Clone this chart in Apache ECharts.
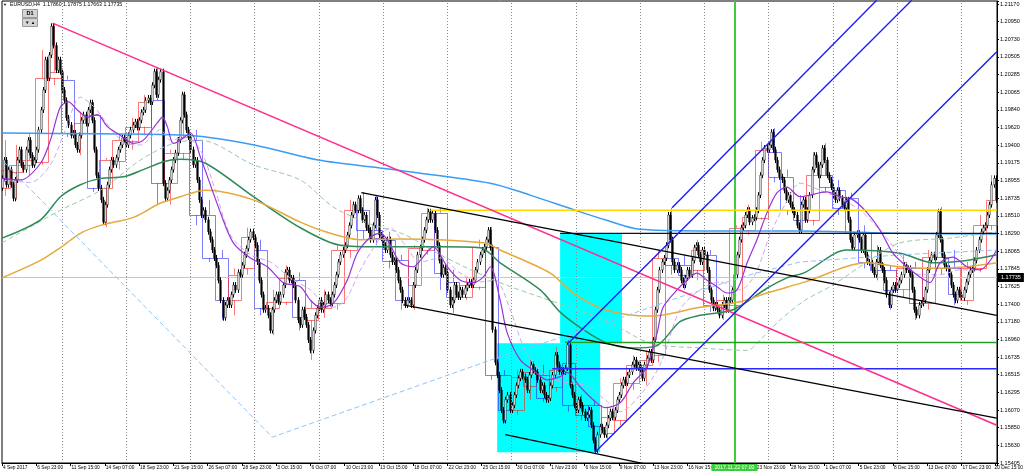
<!DOCTYPE html>
<html>
<head>
<meta charset="utf-8">
<title>EURUSD,H4</title>
<script src="https://cdn.jsdelivr.net/npm/echarts@6/dist/echarts.min.js"></script>
<style>
html, body { margin: 0; padding: 0; background: #fff; }
#chart { width: 1024px; height: 475px; }
</style>
</head>
<body>
<div id="chart"></div>
<script>
// H4 closes, one row per trading day (first day starts 4 Sep 07:00, then 6 bars a day)
var h4Close = [
    1.1898, 1.1921, 1.1890, 1.1909,
    1.1890, 1.1873, 1.1896, 1.1921, 1.1934, 1.1915,
    1.1909, 1.1934, 1.1946, 1.1927, 1.1915, 1.1921,
    1.1934, 1.1959, 1.1984, 1.2009, 1.2047, 1.2024,
    1.2053, 1.2089, 1.2065, 1.2034, 1.2047, 1.2032,
    1.2009, 1.1996, 1.1974, 1.1965, 1.1952, 1.1955,
    1.1940, 1.1934, 1.1952, 1.1971, 1.1978, 1.1967,
    1.1984, 1.1993, 1.1971, 1.1934, 1.1902, 1.1886,
    1.1871, 1.1843, 1.1865, 1.1890, 1.1909, 1.1921,
    1.1915, 1.1924, 1.1934, 1.1940, 1.1949, 1.1946,
    1.1940, 1.1952, 1.1959, 1.1965, 1.1969, 1.1962,
    1.1971, 1.1981, 1.1984, 1.1996, 1.1999, 1.1994,
    1.2015, 1.2032, 1.2003, 1.2022, 1.2032, 1.1892,
    1.1873, 1.1883, 1.1896, 1.1909, 1.1921, 1.1930,
    1.1946, 1.1971, 1.2003, 1.1978, 1.1959, 1.1950,
    1.1934, 1.1915, 1.1921, 1.1896, 1.1871, 1.1852,
    1.1858, 1.1846, 1.1831, 1.1821, 1.1808, 1.1798,
    1.1789, 1.1770, 1.1745, 1.1723, 1.1739, 1.1745,
    1.1739, 1.1752, 1.1764, 1.1758, 1.1780, 1.1777,
    1.1789, 1.1802, 1.1810, 1.1821, 1.1831, 1.1824,
    1.1814, 1.1793, 1.1770, 1.1752, 1.1733, 1.1735,
    1.1726, 1.1707, 1.1733, 1.1745, 1.1752, 1.1743,
    1.1752, 1.1764, 1.1780, 1.1783, 1.1770, 1.1773,
    1.1764, 1.1745, 1.1720, 1.1714, 1.1733, 1.1724,
    1.1714, 1.1695, 1.1682, 1.1707, 1.1726, 1.1735,
    1.1745, 1.1733, 1.1739, 1.1752, 1.1745, 1.1741,
    1.1752, 1.1764, 1.1777, 1.1793, 1.1802, 1.1808,
    1.1814, 1.1827, 1.1839, 1.1852, 1.1865, 1.1858,
    1.1873, 1.1858, 1.1846, 1.1852, 1.1836, 1.1833,
    1.1821, 1.1839, 1.1871, 1.1852, 1.1827, 1.1823,
    1.1814, 1.1808, 1.1821, 1.1802, 1.1793, 1.1795,
    1.1783, 1.1770, 1.1758, 1.1745, 1.1739, 1.1745,
    1.1745, 1.1739, 1.1764, 1.1783, 1.1802, 1.1811,
    1.1821, 1.1833, 1.1846, 1.1856, 1.1846, 1.1854,
    1.1833, 1.1814, 1.1795, 1.1777, 1.1786, 1.1780,
    1.1758, 1.1739, 1.1745, 1.1764, 1.1752, 1.1749,
    1.1758, 1.1752, 1.1760, 1.1764, 1.1768, 1.1764,
    1.1770, 1.1783, 1.1793, 1.1802, 1.1808, 1.1812,
    1.1821, 1.1833, 1.1811, 1.1708, 1.1667, 1.1651,
    1.1632, 1.1607, 1.1594, 1.1620, 1.1626, 1.1607,
    1.1613, 1.1626, 1.1638, 1.1647, 1.1655, 1.1649,
    1.1645, 1.1632, 1.1651, 1.1664, 1.1657, 1.1655,
    1.1645, 1.1632, 1.1638, 1.1626, 1.1620, 1.1622,
    1.1638, 1.1651, 1.1676, 1.1664, 1.1655, 1.1657,
    1.1655, 1.1660, 1.1689, 1.1638, 1.1626, 1.1613,
    1.1607, 1.1620, 1.1613, 1.1605, 1.1597, 1.1601,
    1.1607, 1.1588, 1.1569, 1.1557, 1.1576, 1.1586,
    1.1582, 1.1576, 1.1588, 1.1597, 1.1605, 1.1598,
    1.1607, 1.1620, 1.1626, 1.1638, 1.1645, 1.1641,
    1.1651, 1.1655, 1.1664, 1.1670, 1.1660, 1.1664,
    1.1657, 1.1647, 1.1664, 1.1672, 1.1680, 1.1670,
    1.1695, 1.1733, 1.1758, 1.1783, 1.1793, 1.1798,
    1.1814, 1.1852, 1.1821, 1.1793, 1.1783, 1.1789,
    1.1783, 1.1770, 1.1764, 1.1773, 1.1783, 1.1777,
    1.1795, 1.1811, 1.1814, 1.1802, 1.1793, 1.1808,
    1.1802, 1.1783, 1.1758, 1.1745, 1.1735, 1.1739,
    1.1733, 1.1726, 1.1739, 1.1745, 1.1733, 1.1745,
    1.1745, 1.1758, 1.1777, 1.1802, 1.1821, 1.1836,
    1.1839, 1.1852, 1.1858, 1.1843, 1.1848, 1.1849,
    1.1858, 1.1877, 1.1902, 1.1921, 1.1936, 1.1934,
    1.1940, 1.1956, 1.1934, 1.1921, 1.1909, 1.1900,
    1.1896, 1.1883, 1.1871, 1.1877, 1.1865, 1.1858,
    1.1852, 1.1839, 1.1833, 1.1865, 1.1871, 1.1846,
    1.1858, 1.1877, 1.1909, 1.1927, 1.1915, 1.1902,
    1.1915, 1.1936, 1.1921, 1.1902, 1.1896, 1.1887,
    1.1877, 1.1871, 1.1883, 1.1873, 1.1865, 1.1861,
    1.1871, 1.1846, 1.1821, 1.1811, 1.1827, 1.1829,
    1.1821, 1.1808, 1.1827, 1.1802, 1.1793, 1.1792,
    1.1783, 1.1777, 1.1793, 1.1808, 1.1789, 1.1783,
    1.1770, 1.1752, 1.1739, 1.1758, 1.1764, 1.1758,
    1.1764, 1.1770, 1.1777, 1.1789, 1.1783, 1.1785,
    1.1777, 1.1758, 1.1733, 1.1726, 1.1739, 1.1741,
    1.1745, 1.1758, 1.1783, 1.1795, 1.1802, 1.1799,
    1.1827, 1.1856, 1.1821, 1.1802, 1.1789, 1.1785,
    1.1777, 1.1764, 1.1752, 1.1745, 1.1758, 1.1752,
    1.1748, 1.1758, 1.1768, 1.1777, 1.1783, 1.1785,
    1.1795, 1.1808, 1.1821, 1.1831, 1.1836, 1.1839,
    1.1852, 1.1865, 1.1890, 1.1898, 1.1871
];

// daily candles (the red / blue boxes)
var dayOpen = [
    1.1886, 1.1906, 1.1915, 1.1919, 1.2024, 1.2022, 1.1955, 1.1978, 1.1886, 1.1919,
    1.1946, 1.1963, 1.1996, 1.1892, 1.1930, 1.1946, 1.1852, 1.1798, 1.1745, 1.1785,
    1.1808, 1.1735, 1.1743, 1.1770, 1.1720, 1.1735, 1.1741, 1.1808, 1.1858, 1.1833,
    1.1821, 1.1795, 1.1764, 1.1808, 1.1855, 1.1768, 1.1749, 1.1762, 1.1812, 1.1651,
    1.1607, 1.1638, 1.1651, 1.1636, 1.1666, 1.1613, 1.1613, 1.1578, 1.1594, 1.1641,
    1.1664, 1.1676, 1.1798, 1.1789, 1.1783, 1.1802, 1.1739, 1.1739, 1.1833, 1.1849,
    1.1931, 1.1900, 1.1858, 1.1846, 1.1902, 1.1883, 1.1873, 1.1829, 1.1792, 1.1783,
    1.1758, 1.1785, 1.1741, 1.1799, 1.1785, 1.1745, 1.1785, 1.1839
];
var dayHigh = [
    1.1946, 1.1940, 1.1955, 1.2059, 1.2093, 1.2027, 1.1981, 1.1994, 1.1924, 1.1952,
    1.1974, 1.2003, 1.2037, 1.1934, 1.2005, 1.1959, 1.1871, 1.1808, 1.1785, 1.1836,
    1.1821, 1.1758, 1.1789, 1.1780, 1.1745, 1.1758, 1.1814, 1.1871, 1.1881, 1.1877,
    1.1831, 1.1802, 1.1814, 1.1861, 1.1861, 1.1783, 1.1773, 1.1821, 1.1837, 1.1657,
    1.1657, 1.1670, 1.1664, 1.1686, 1.1695, 1.1626, 1.1620, 1.1610, 1.1647, 1.1676,
    1.1682, 1.1808, 1.1861, 1.1802, 1.1821, 1.1808, 1.1752, 1.1839, 1.1865, 1.1944,
    1.1961, 1.1909, 1.1877, 1.1931, 1.1942, 1.1896, 1.1880, 1.1839, 1.1814, 1.1789,
    1.1802, 1.1793, 1.1808, 1.1862, 1.1808, 1.1793, 1.1852, 1.1902
];
var dayLow = [
    1.1876, 1.1871, 1.1902, 1.1915, 1.2015, 1.1950, 1.1927, 1.1881, 1.1837, 1.1909,
    1.1934, 1.1952, 1.1865, 1.1865, 1.1921, 1.1839, 1.1793, 1.1720, 1.1726, 1.1777,
    1.1726, 1.1701, 1.1739, 1.1707, 1.1670, 1.1723, 1.1733, 1.1798, 1.1821, 1.1814,
    1.1785, 1.1733, 1.1733, 1.1802, 1.1758, 1.1729, 1.1745, 1.1758, 1.1645, 1.1591,
    1.1601, 1.1620, 1.1617, 1.1630, 1.1605, 1.1594, 1.1554, 1.1569, 1.1588, 1.1632,
    1.1638, 1.1667, 1.1777, 1.1758, 1.1770, 1.1730, 1.1720, 1.1733, 1.1827, 1.1846,
    1.1893, 1.1852, 1.1831, 1.1839, 1.1881, 1.1852, 1.1808, 1.1785, 1.1770, 1.1733,
    1.1748, 1.1720, 1.1733, 1.1777, 1.1739, 1.1739, 1.1780, 1.1833
];
var dayClose = [
    1.1909, 1.1915, 1.1921, 1.2024, 1.2032, 1.1955, 1.1968, 1.1886, 1.1921, 1.1946,
    1.1963, 1.1994, 1.1892, 1.1930, 1.1950, 1.1852, 1.1798, 1.1745, 1.1777, 1.1824,
    1.1735, 1.1743, 1.1773, 1.1724, 1.1735, 1.1741, 1.1808, 1.1858, 1.1833, 1.1823,
    1.1795, 1.1745, 1.1811, 1.1855, 1.1780, 1.1749, 1.1764, 1.1812, 1.1651, 1.1607,
    1.1649, 1.1655, 1.1622, 1.1657, 1.1613, 1.1601, 1.1586, 1.1598, 1.1641, 1.1664,
    1.1670, 1.1798, 1.1789, 1.1777, 1.1808, 1.1739, 1.1745, 1.1836, 1.1849, 1.1934,
    1.1900, 1.1858, 1.1846, 1.1902, 1.1887, 1.1861, 1.1829, 1.1792, 1.1783, 1.1758,
    1.1785, 1.1741, 1.1799, 1.1785, 1.1752, 1.1785, 1.1839, 1.1871
];

// axis labels: time label every 16 bars, price labels bottom to top
var timeLabels = ['4 Sep 2017', '6 Sep 23:00', '11 Sep 15:00', '14 Sep 07:00', '18 Sep 23:00', '21 Sep 15:00',
    '26 Sep 07:00', '28 Sep 23:00', '3 Oct 15:00', '6 Oct 07:00', '10 Oct 23:00', '13 Oct 15:00', '18 Oct 07:00',
    '22 Oct 23:00', '25 Oct 15:00', '30 Oct 07:00', '1 Nov 23:00', '6 Nov 15:00', '9 Nov 07:00', '13 Nov 23:00',
    '16 Nov 15:00', '21 Nov 07:00', '23 Nov 23:00', '28 Nov 15:00', '1 Dec 07:00', '5 Dec 23:00', '8 Dec 15:00',
    '13 Dec 07:00', '17 Dec 23:00', '20 Dec 15:00'];
var priceLabels = ['1.15405', '1.15630', '1.15850', '1.16070', '1.16295', '1.16515', '1.16735', '1.16960',
    '1.17180', '1.17400', '1.17625', '1.17845', '1.18065', '1.18290', '1.18510', '1.18735', '1.18955', '1.19175',
    '1.19400', '1.19620', '1.19840', '1.20065', '1.20285', '1.20505', '1.20730', '1.20950', '1.21170'];
var weekStarts = [28, 58, 88, 118, 148, 178, 208, 238, 268, 298, 328, 358, 388, 418, 448];

// moving averages, [bar, price]
var maSky = [[0, 1.1955], [46, 1.1954], [88, 1.1952], [117.8, 1.1940], [147.7, 1.1921], [176.6, 1.1911], [188.3, 1.1907],
    [228, 1.1892], [246.6, 1.1877], [267.6, 1.1858], [281.6, 1.1846], [298, 1.1834], [326, 1.1832], [372.6, 1.1832],
    [419.3, 1.1829], [464.5, 1.1828]];
var maGreen = [[0, 1.1823], [18, 1.1846], [27.3, 1.1875], [36.6, 1.1890], [46, 1.1898], [56.7, 1.1900], [66, 1.1909],
    [75.4, 1.1919], [83.3, 1.1922], [95, 1.1917], [117.4, 1.1875], [139.3, 1.1836], [158, 1.1814], [176.6, 1.1812],
    [204.6, 1.1812], [223.3, 1.1811], [232.6, 1.1792], [251.3, 1.1758], [260.6, 1.1730], [271.4, 1.1708],
    [281.6, 1.1692], [293.3, 1.1685], [305, 1.1687], [316.6, 1.1718], [326, 1.1726], [341.3, 1.1733], [357.2, 1.1760],
    [366.5, 1.1773], [375, 1.1780], [394.5, 1.1808], [419.3, 1.1804], [434.7, 1.1792], [450.5, 1.1795], [464.5, 1.1802]];
var maGreenDash = [[0, 1.1817], [27.3, 1.1858], [46, 1.1883], [64.6, 1.1921], [80, 1.1942], [92.6, 1.1946],
    [117.4, 1.1915], [139.3, 1.1896], [154.7, 1.1862], [170.6, 1.1842], [188.3, 1.1827], [204.6, 1.1802],
    [232.6, 1.1767], [281.6, 1.1720], [302.6, 1.1691], [326, 1.1685], [347.9, 1.1682], [354, 1.1695], [363.3, 1.1720],
    [375, 1.1745], [388, 1.1764], [403.9, 1.1793], [419.3, 1.1817], [442.6, 1.1823], [464.5, 1.1831]];
var maOrange = [[0, 1.1773], [18, 1.1795], [27.3, 1.1811], [36.6, 1.1829], [46, 1.1839], [61.4, 1.1849], [74, 1.1867],
    [83.3, 1.1875], [95, 1.1883], [117.4, 1.1871], [139.3, 1.1843], [153.3, 1.1829], [167.3, 1.1821], [186, 1.1822],
    [224.7, 1.1817], [232.6, 1.1808], [256, 1.1779], [266.7, 1.1754], [281.6, 1.1733], [302.6, 1.1725], [326, 1.1736],
    [344.6, 1.1743], [357.2, 1.1754], [375, 1.1768], [403.9, 1.1792], [419.3, 1.1787], [434.7, 1.1785],
    [450.5, 1.1787], [464.5, 1.1792]];
var maPurple = [[0, 1.1898], [8.6, 1.1896], [18, 1.1917], [22.6, 1.1946], [27.3, 1.1988], [31, 1.1994], [35.2, 1.1984],
    [39.9, 1.1975], [44.6, 1.1978], [49.2, 1.1963], [55.3, 1.1952], [61.4, 1.1942], [66, 1.1946], [72.6, 1.1968],
    [74.9, 1.1975], [77.2, 1.1963], [80, 1.1942], [83.3, 1.1946], [88, 1.1955], [92.6, 1.1925], [102, 1.1855],
    [108, 1.1817], [116, 1.1798], [123.9, 1.1787], [131.4, 1.1767], [139.3, 1.1762], [144, 1.1745], [148.6, 1.1736],
    [154.7, 1.1741], [161.2, 1.1770], [165.9, 1.1804], [172, 1.1824], [176.6, 1.1829], [179.9, 1.1821], [186, 1.1792],
    [192, 1.1787], [195.3, 1.1795], [201.4, 1.1812], [207.9, 1.1787], [214, 1.1770], [220, 1.1767], [224.7, 1.1774],
    [228, 1.1787], [232.6, 1.1745], [235.9, 1.1704], [242, 1.1670], [248, 1.1657], [254.5, 1.1645], [260.6, 1.1649],
    [263.9, 1.1654], [270, 1.1636], [276, 1.1620], [281.6, 1.1610], [288.6, 1.1616], [294.7, 1.1641], [301.2, 1.1661],
    [305.9, 1.1704], [308.7, 1.1736], [315.2, 1.1758], [319.9, 1.1770], [324.5, 1.1779], [329.2, 1.1770],
    [333.9, 1.1762], [338.5, 1.1754], [343.2, 1.1758], [347.9, 1.1792], [352.5, 1.1821], [357.2, 1.1855],
    [361.9, 1.1880], [366.5, 1.1887], [372.6, 1.1875], [385.2, 1.1881], [391.3, 1.1875], [397.4, 1.1871],
    [403.9, 1.1855], [410, 1.1833], [416, 1.1804], [422.5, 1.1787], [428.6, 1.1774], [433.3, 1.1767], [438, 1.1792],
    [444, 1.1799], [450.5, 1.1787], [456.6, 1.1783], [464.5, 1.1808]];
var maPurpleDash = [[0, 1.1896], [13.3, 1.1893], [22.6, 1.1915], [29.6, 1.1959], [36.6, 1.2000], [43.6, 1.1986],
    [50.6, 1.1961], [57.6, 1.1942], [64.6, 1.1940], [74, 1.1959], [78.6, 1.1946], [85.6, 1.1949], [92.6, 1.1934],
    [99.6, 1.1883], [106.6, 1.1827], [116, 1.1802], [125.3, 1.1793], [134.6, 1.1773], [144, 1.1758], [153.3, 1.1735],
    [160.3, 1.1745], [167.3, 1.1783], [174.3, 1.1814], [181.3, 1.1836], [188.3, 1.1814], [195.3, 1.1793],
    [204.6, 1.1798], [214, 1.1779], [223.3, 1.1768], [230.3, 1.1770], [237.3, 1.1733], [244.3, 1.1682],
    [253.6, 1.1651], [262.9, 1.1642], [272.3, 1.1638], [281.6, 1.1620], [288.6, 1.1605], [298, 1.1626],
    [307.3, 1.1664], [316.6, 1.1733], [326, 1.1758], [335.3, 1.1768], [344.6, 1.1758], [351.6, 1.1777],
    [358.6, 1.1827], [365.6, 1.1865], [372.6, 1.1892], [382, 1.1883], [391.3, 1.1873], [400.6, 1.1858], [410, 1.1833],
    [419.3, 1.1802], [428.6, 1.1777], [438, 1.1777], [447.4, 1.1783], [456.6, 1.1783], [464.5, 1.1808]];
var skyDash = [[0.7, 1.1919], [126.2, 1.1573], [232.6, 1.1674], [279.3, 1.1714], [316.6, 1.1749], [349.3, 1.1777],
    [372.6, 1.1793], [419.3, 1.1802], [464.5, 1.1808]];

// drawn objects
var pinkLine = [[23.6, 1.2093], [464.5, 1.1588]];
var blackLines = [
    [[167.8, 1.1880], [464.5, 1.1726]],
    [[187.4, 1.1739], [464.5, 1.1597]],
    [[235.0, 1.1576], [302.6, 1.1538]]
];
var blueLines = [
    [[312.9, 1.1861], [408.5, 1.2122]],
    [[264.4, 1.1691], [424.9, 1.2122]],
    [[276.9, 1.1554], [464.5, 1.2057]]
];
var yellowLevel = [[200, 1.1858], [464.5, 1.1858]];
var darkLevel = [[260.6, 1.1829], [464.5, 1.1829]];
var greenLevel = [[262.9, 1.1692], [464.5, 1.1692]];
var blueLevel = [[256.9, 1.1659], [464.5, 1.1659]];
var cyanBoxes = [[260.6, 289.5, 1.1829, 1.1691], [231.2, 279.3, 1.1691, 1.1554]];
var markerBar = 342;
var bidPrice = 1.17735;

var WICK = 3;   // px of shadow drawn past the body
var X_MAX = 464.6;

var candleData = h4Close.map(function (c, i) {
    return [i, i === 0 ? dayOpen[0] : h4Close[i - 1], c];
});
var dayData = dayOpen.map(function (o, k) {
    var first = k === 0 ? 0 : 4 + 6 * (k - 1);
    var last = Math.min(k === 0 ? 3 : first + 5, h4Close.length - 1);
    return [first, last, o, dayHigh[k], dayLow[k], dayClose[k]];
});

function renderCandle(params, api) {
    var o = api.value(1), c = api.value(2);
    var po = api.coord([api.value(0), o]);
    var pc = api.coord([api.value(0), c]);
    var top = Math.min(po[1], pc[1]);
    var bot = Math.max(po[1], pc[1]);
    var x = Math.round(po[0]) + 0.5;
    return {
        type: 'group',
        children: [
            { type: 'line', shape: { x1: x, y1: top - WICK, x2: x, y2: bot + WICK }, style: { stroke: '#000', lineWidth: 1 } },
            { type: 'rect', shape: { x: x - 0.8, y: top, width: 1.6, height: Math.max(1, bot - top) },
                style: { fill: c >= o ? '#fff' : '#000', stroke: '#000', lineWidth: 0.5 } }
        ]
    };
}

function renderDay(params, api) {
    var first = api.value(0), last = api.value(1);
    var o = api.value(2), h = api.value(3), l = api.value(4), c = api.value(5);
    var left = api.coord([first - 0.5, o])[0];
    var right = api.coord([last + 0.5, o])[0];
    var yo = api.coord([first, o])[1], yc = api.coord([first, c])[1];
    var yh = api.coord([first, h])[1], yl = api.coord([first, l])[1];
    var top = Math.min(yo, yc), bot = Math.max(yo, yc);
    var mid = Math.round((left + right) / 2) + 0.5;
    var col = c >= o ? 'rgba(255,30,30,0.6)' : 'rgba(40,40,255,0.6)';
    return {
        type: 'group',
        children: [
            { type: 'rect', shape: { x: Math.round(left) + 0.5, y: Math.round(top) + 0.5, width: Math.round(right - left), height: Math.max(1, Math.round(bot - top)) },
                style: { fill: 'transparent', stroke: col, lineWidth: 1 } },
            { type: 'line', shape: { x1: mid, y1: yh, x2: mid, y2: top }, style: { stroke: col, lineWidth: 1 } },
            { type: 'line', shape: { x1: mid, y1: bot, x2: mid, y2: yl }, style: { stroke: col, lineWidth: 1 } }
        ]
    };
}

function renderBox(params, api) {
    var p0 = api.coord([api.value(0), api.value(2)]);
    var p1 = api.coord([api.value(1), api.value(3)]);
    return { type: 'rect', shape: { x: p0[0], y: p0[1], width: p1[0] - p0[0], height: p1[1] - p0[1] }, style: { fill: '#00ffff' } };
}

function ma(data, color, width, dashed, smooth) {
    return {
        type: 'line', data: data, symbol: 'none', smooth: smooth === false ? false : 0.3, silent: true, z: 5,
        lineStyle: { color: color, width: width, type: dashed ? [5, 3] : 'solid' }
    };
}
function seg(data, color, width) {
    return {
        type: 'line', data: data, symbol: 'none', smooth: false, silent: true, z: 6,
        lineStyle: { color: color, width: width }
    };
}

var chart = echarts.init(document.getElementById('chart'));
var series = [
    { type: 'custom', renderItem: renderBox, data: cyanBoxes, encode: { x: 0, y: 2 }, z: 1, silent: true },
    {
        type: 'line', data: [[0, 1.18]], symbol: 'none', lineStyle: { width: 0 }, z: 1, silent: true,
        markLine: {
            silent: true, symbol: ['none', 'none'], animation: false,
            label: { show: false },
            lineStyle: { color: '#8a8a8a', type: [1, 2], width: 1 },
            data: weekStarts.map(function (b) { return { xAxis: b }; })
        }
    },
    // bid line with its price box on the right
    {
        type: 'line', data: [[0, bidPrice], [X_MAX, bidPrice]], symbol: 'none', z: 2, silent: true,
        lineStyle: { color: '#c6c6c6', width: 1 },
        endLabel: {
            show: true, distance: 1, formatter: bidPrice.toFixed(5),
            backgroundColor: '#000', color: '#fff', fontSize: 5.5, fontFamily: 'Liberation Sans', padding: [2, 3, 1, 3]
        }
    },
    { type: 'custom', renderItem: renderDay, data: dayData, encode: { x: 0, y: 2 }, z: 2, silent: true },
    { type: 'custom', renderItem: renderCandle, data: candleData, encode: { x: 0, y: 2 }, z: 3, silent: true },
    ma(maSky, '#3a9cf5', 1.5),
    ma(maGreenDash, '#9cc8a8', 1, true),
    ma(maGreen, '#2e8b57', 1.5),
    ma(maOrange, '#e6a93a', 1.5),
    ma(skyDash, '#8cc4ff', 1, true, false),
    ma(maPurpleDash, '#cfa6ee', 1, true),
    ma(maPurple, '#9b30d9', 1.2),
    seg(yellowLevel, '#ffd700', 1.5),
    seg(darkLevel, '#101028', 1.3),
    seg(greenLevel, '#22a022', 1.5),
    seg(blueLevel, '#2a2aff', 1.5),
    seg(pinkLine, '#ff2d8e', 1.6)
];
blackLines.forEach(function (l) { series.push(seg(l, '#000', 1.3)); });
blueLines.forEach(function (l) { series.push(seg(l, '#1c1cf0', 1.4)); });
series.push({
    type: 'line', data: [[0, 1.18]], symbol: 'none', lineStyle: { width: 0 }, z: 7, silent: true,
    markLine: {
        silent: true, symbol: ['none', 'none'], animation: false,
        lineStyle: { color: '#3ccc3c', type: 'solid', width: 2 },
        label: {
            show: true, position: 'start', distance: 1, formatter: '2017.11.22 07:00',
            backgroundColor: '#3ccc3c', color: '#fff', fontSize: 5.2, fontFamily: 'Liberation Sans', padding: [1, 3, 1, 3]
        },
        data: [{ xAxis: markerBar }]
    }
});

chart.setOption({
    animation: false,
    backgroundColor: '#fff',
    grid: {
        left: 2, right: 27, top: 1, bottom: 12,
        show: true, borderColor: '#000', borderWidth: 1, backgroundColor: '#fff',
        containLabel: false, outerBoundsMode: 'none'
    },
    xAxis: {
        type: 'value', min: 0, max: X_MAX, interval: 16,
        axisLine: { show: true, lineStyle: { color: '#000' } },
        axisTick: { show: true, length: 3, lineStyle: { color: '#000' } },
        splitLine: { show: false },
        axisLabel: {
            color: '#000', fontSize: 4.8, fontFamily: 'Liberation Sans', align: 'left', margin: 2,
            padding: [0, 0, 0, 1], hideOverlap: false, showMinLabel: true, showMaxLabel: true,
            formatter: function (v) {
                var k = Math.round(v / 16);
                if (Math.abs(v - 16 * k) > 1e-6 || k >= timeLabels.length - 1) return '';
                return timeLabels[k];
            }
        }
    },
    yAxis: [
        { type: 'value', min: 1.15405, max: 1.21208, show: false, scale: true },
        {
            type: 'value', position: 'right', min: 0, max: 26.171, interval: 1,
            axisLine: { show: true, lineStyle: { color: '#000' } },
            axisTick: { show: true, length: 2, lineStyle: { color: '#000' } },
            splitLine: { show: false },
            axisLabel: {
                color: '#000', fontSize: 5.5, fontFamily: 'Liberation Sans', margin: 3,
                hideOverlap: false, showMinLabel: true, showMaxLabel: true,
                formatter: function (v) {
                    var k = Math.round(v);
                    if (Math.abs(v - k) > 1e-6) return '';
                    return priceLabels[k] || '';
                }
            }
        }
    ],
    graphic: [
        { type: 'text', x: 3, y: 3, style: { text: '▼', fontSize: 4, fill: '#000' } },
        { type: 'text', x: 10, y: 2, style: { text: 'EURUSD,H4  1.17860 1.17875 1.17663 1.17735', fontSize: 5.2, fontFamily: 'Liberation Sans', fill: '#000' } },
        { type: 'rect', shape: { x: 22.5, y: 9.5, width: 15, height: 8 }, style: { fill: '#d4d4d4', stroke: '#9a9a9a', lineWidth: 1 } },
        { type: 'text', x: 30, y: 10.5, style: { text: 'D1', fontSize: 5.5, fontWeight: 'bold', fontFamily: 'Liberation Sans', fill: '#000', align: 'center' } },
        { type: 'rect', shape: { x: 22.5, y: 18.5, width: 15, height: 8 }, style: { fill: '#d4d4d4', stroke: '#9a9a9a', lineWidth: 1 } },
        { type: 'text', x: 30, y: 20, style: { text: '▼ ▲', fontSize: 4.5, fill: '#000', align: 'center' } },
        { type: 'text', x: 1023, y: 465, style: { text: timeLabels[timeLabels.length - 1], fontSize: 4.8, fontFamily: 'Liberation Sans', fill: '#000', align: 'right' } }
    ],
    series: series
});
</script>
</body>
</html>
